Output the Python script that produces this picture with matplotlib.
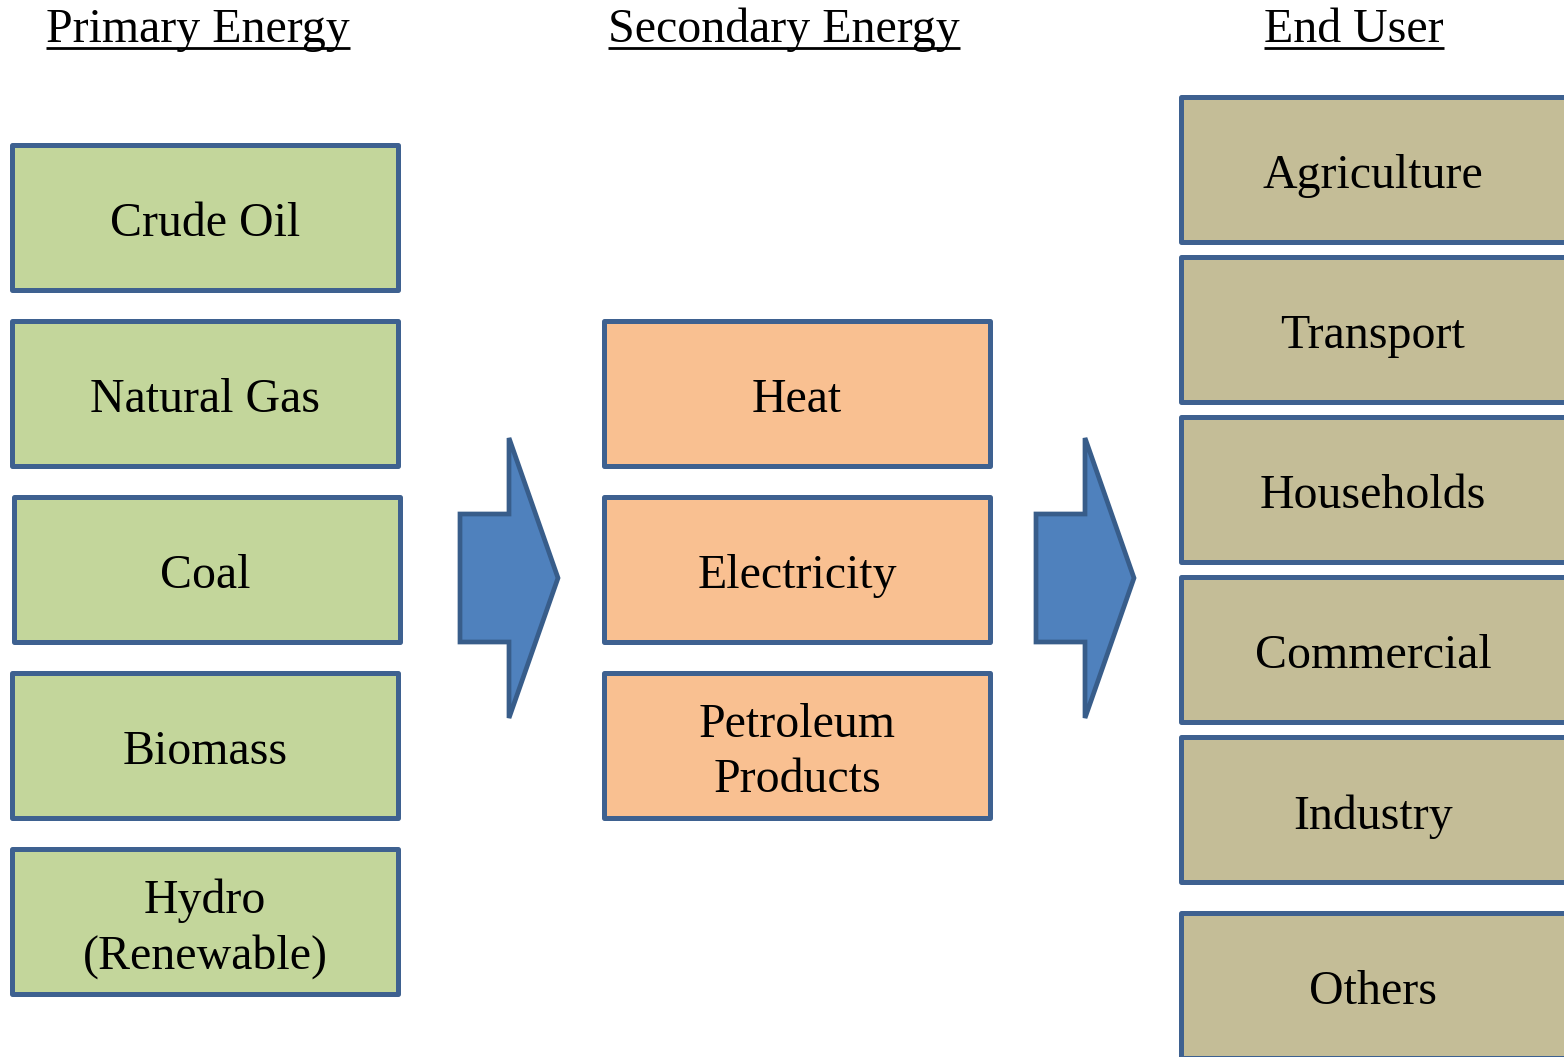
import matplotlib
matplotlib.use("Agg")
import matplotlib.pyplot as plt
from matplotlib.patches import Rectangle, Polygon

primary = ["Crude Oil", "Natural Gas", "Coal", "Biomass", "Hydro\n(Renewable)"]
secondary = ["Heat", "Electricity", "Petroleum\nProducts"]
end_user = ["Agriculture", "Transport", "Households", "Commercial", "Industry", "Others"]
headers = ["Primary Energy", "Secondary Energy", "End User"]

EDGE = "#3E6190"
FILL = {"primary": "#C3D69B", "secondary": "#F9C091", "end": "#C4BD97"}
FONT = "Liberation Serif"

fig = plt.figure(figsize=(15.64, 10.57), dpi=100)
ax = fig.add_axes([0, 0, 1, 1])
ax.set_xlim(0, 1564)
ax.set_ylim(1057, 0)
ax.axis("off")


def box(x, y, w, h, label, fill, cx=None):
    ax.add_patch(Rectangle((x, y), w, h, facecolor=fill, edgecolor=EDGE,
                           linewidth=3.6, joinstyle="round"))
    if cx is None:
        cx = x + w / 2
    ax.text(cx, y + h / 2 + 7, label, ha="center", va="center",
            fontsize=34.5, family=FONT, linespacing=1.33)


def arrow(x0):
    pts = [(x0, 514), (x0 + 49, 514), (x0 + 49, 438), (x0 + 98, 578),
           (x0 + 49, 718), (x0 + 49, 642), (x0, 642)]
    ax.add_patch(Polygon(pts, closed=True, facecolor="#4F81BD",
                         edgecolor="#385D8A", linewidth=3.4))


# column 1
tops1 = [145, 321, 497, 673, 849]
for i, (lab, t) in enumerate(zip(primary, tops1)):
    x = 14 if i == 2 else 12
    box(x, t, 386, 145, lab, FILL["primary"], cx=205)

# column 2
tops2 = [321, 497, 673]
for lab, t in zip(secondary, tops2):
    box(604, t, 386, 145, lab, FILL["secondary"], cx=797)

# column 3 (runs past the right edge)
tops3 = [97, 257, 417, 577, 737, 913]
for lab, t in zip(end_user, tops3):
    box(1181, t, 420, 145, lab, FILL["end"], cx=1373)

arrow(460)
arrow(1036)

# underlined headers
hx = [198, 784, 1354]
fig.canvas.draw()
r = fig.canvas.get_renderer()
inv = ax.transData.inverted()
for lab, cx in zip(headers, hx):
    t = ax.text(cx, 30, lab, ha="center", va="center", fontsize=34.5, family=FONT)
    bb = t.get_window_extent(renderer=r)
    (x0, _), (x1, _) = inv.transform([(bb.x0, 0), (bb.x1, 0)])
    ax.plot([x0, x1], [48, 48], color="black", linewidth=2, solid_capstyle="butt")

fig.savefig("out.png", dpi=100)
